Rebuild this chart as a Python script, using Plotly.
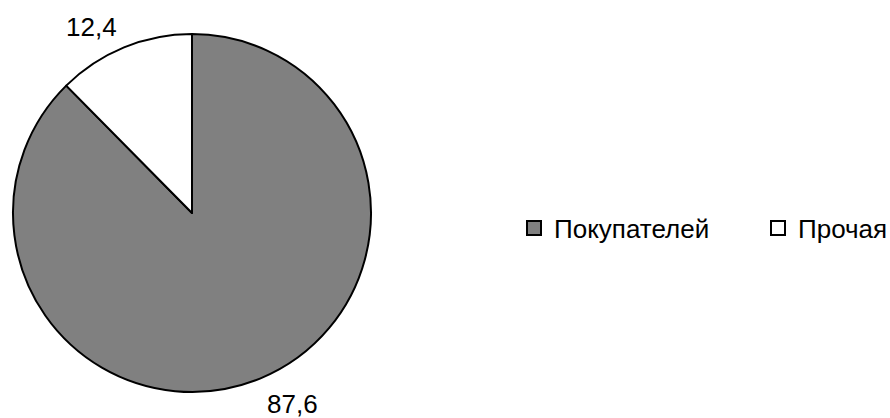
import math
import plotly.graph_objects as go

labels = ["Покупателей", "Прочая"]
values = [87.6, 12.4]
colors = ["#808080", "#ffffff"]

W, H = 890, 418
cx, cy, r = 192, 213, 179  # pie centre / radius in px
legend_x = [514, 758]      # left edge of each legend entry, px

fig = go.Figure(go.Pie(
    labels=labels,
    values=values,
    sort=False,
    direction="clockwise",
    rotation=0,
    marker=dict(colors=colors, line=dict(color="black", width=2)),
    textinfo="none",
    hoverinfo="label+value",
    showlegend=False,
    domain=dict(x=[(cx - r) / W, (cx + r) / W], y=[1 - (cy + r) / H, 1 - (cy - r) / H]),
))

# legend entries, one legend per entry so each can be placed
for i, (lab, col) in enumerate(zip(labels, colors)):
    fig.add_trace(go.Scatter(
        x=[None], y=[None], mode="markers", name=lab,
        marker=dict(symbol="square", size=14, color=col, line=dict(color="black", width=2)),
        legend="legend" if i == 0 else f"legend{i + 1}",
    ))

# value labels outside each slice, corner pinned on the middle angle
total = sum(values)
start = 0
for v in values:
    mid = (start + v / 2) / total * 2 * math.pi
    start += v
    s, c = math.sin(mid), math.cos(mid)
    px = cx + s * (r + 12)
    py = cy - c * (r + 12)
    fig.add_annotation(
        x=px / W, y=1 - py / H, xref="paper", yref="paper",
        xanchor="left" if s >= 0 else "right",
        yanchor="bottom" if c >= 0 else "top",
        yshift=-8 if c >= 0 else 3,
        text=f"{v:.1f}".replace(".", ","), showarrow=False,
        font=dict(size=26, color="black"),
    )

leg = dict(
    orientation="h", xanchor="left", y=1 - 228 / H, yanchor="middle",
    font=dict(size=26), bgcolor="rgba(0,0,0,0)",
)
fig.update_layout(
    width=W, height=H,
    margin=dict(l=0, r=0, t=0, b=0, autoexpand=False),
    paper_bgcolor="white",
    plot_bgcolor="white",
    font=dict(family="Liberation Sans, Arial, sans-serif", size=26, color="black"),
    separators=", ",
    showlegend=True,
    xaxis=dict(visible=False),
    yaxis=dict(visible=False),
    legend=dict(leg, x=legend_x[0] / W),
    legend2=dict(leg, x=legend_x[1] / W),
)

fig.write_html("out.html", config={"displayModeBar": False},
               post_script="document.body.style.margin='0px';")
